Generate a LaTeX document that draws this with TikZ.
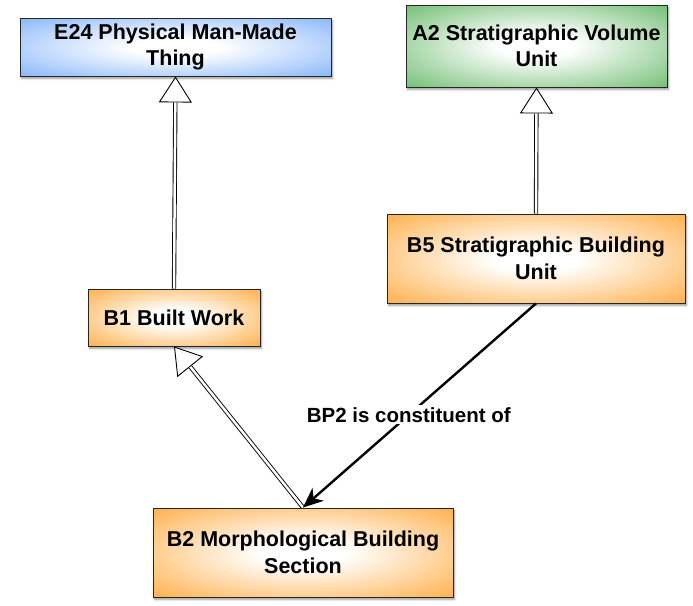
\documentclass[tikz,border=0pt]{standalone}
\usepackage{fontspec}
\setmainfont{Liberation Sans}
\usetikzlibrary{arrows.meta,shadows.blur}

% Radial glows: white core fading to the class colour at the rim
\definecolor{boxorange}{RGB}{255,150,18}
\definecolor{boxblue}{RGB}{98,160,248}
\definecolor{boxgreen}{RGB}{70,170,72}
\pgfdeclareradialshading{orangeglow}{\pgfpoint{0bp}{0bp}}{color(0bp)=(white); color(7bp)=(white); color(45bp)=(boxorange); color(60bp)=(boxorange)}
\pgfdeclareradialshading{blueglow}{\pgfpoint{0bp}{0bp}}{color(0bp)=(white); color(7bp)=(white); color(45bp)=(boxblue); color(60bp)=(boxblue)}
\pgfdeclareradialshading{greenglow}{\pgfpoint{0bp}{0bp}}{color(0bp)=(white); color(7bp)=(white); color(45bp)=(boxgreen); color(60bp)=(boxgreen)}

\tikzset{
  classbox/.style={draw=black!85, line width=0.9pt, rectangle, align=center,
    font=\fontsize{21.5}{26.5}\selectfont\bfseries, inner sep=0pt,
    blur shadow={shadow xshift=1.5pt, shadow yshift=-2.5pt, shadow blur steps=5, shadow blur radius=2pt, shadow opacity=40}},
  orangebox/.style={classbox, shading=orangeglow},
  bluebox/.style={classbox, shading=blueglow},
  greenbox/.style={classbox, shading=greenglow},
  % generalisation: hollow-cored shaft ending in an open triangle
  isa/.style={draw=none,
    postaction={draw, line width=0.9pt, -{Triangle[length=26pt, width=33pt, fill=white, line width=0.9pt]}},
    postaction={draw, double=white, double distance=2.5pt, line width=0.9pt, shorten >=26pt}},
  relation/.style={draw, line width=2.4pt, -{Stealth[length=20pt, width=17pt, inset=6pt]}},
  rellabel/.style={fill=white, inner sep=2pt, font=\fontsize{20.5}{24}\selectfont\bfseries}
}

\begin{document}
\begin{tikzpicture}[x=1pt, y=-1pt]
  \useasboundingbox (0,0) rectangle (693,605);

  \node[bluebox, minimum width=311pt, minimum height=58pt] (e24) at (175.5,47)
    {E24 Physical Man-Made\\Thing};
  \node[greenbox, minimum width=261pt, minimum height=82pt] (a2) at (536.5,46)
    {A2 Stratigraphic Volume\\Unit};
  \node[orangebox, minimum width=298pt, minimum height=89pt] (b5) at (536,258.5)
    {B5 Stratigraphic Building\\Unit};
  \node[orangebox, minimum width=172pt, minimum height=57pt] (b1) at (174,317.5)
    {B1 Built Work};
  \node[orangebox, minimum width=300pt, minimum height=89pt] (b2) at (303,552.5)
    {B2 Morphological Building\\Section};

  \path[isa] (b1.north) -- (e24.south);
  \path[isa] (b5.north) -- (a2.south);
  \path[isa] (b2.north) -- (b1.south);

  \draw[relation] (b5.south) -- node[rellabel, pos=0.546] (bp2) {BP2 is constituent of} (b2.north);
\end{tikzpicture}
\end{document}
